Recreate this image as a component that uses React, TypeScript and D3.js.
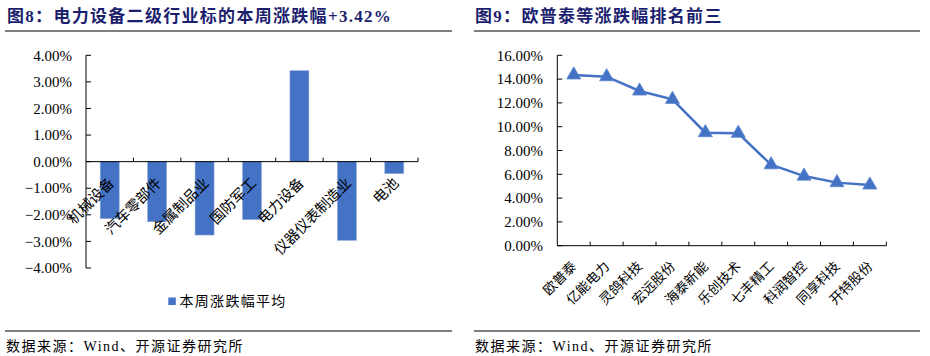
import React from "react";
import * as d3 from "d3";

const leftTitle = "图8：电力设备二级行业标的本周涨跌幅+3.42%";
const rightTitle = "图9：欧普泰等涨跌幅排名前三";
const source = "数据来源：Wind、开源证券研究所";

const barCategories = ["机械设备", "汽车零部件", "金属制品业", "国防军工", "电力设备", "仪器仪表制造业", "电池"];
const barValues = [-2.14, -2.26, -2.76, -2.18, 3.42, -2.96, -0.45];
const barTicks = [-4, -3, -2, -1, 0, 1, 2, 3, 4];
const barLegend = "本周涨跌幅平均";

const lineCategories = ["欧普泰", "亿能电力", "灵鸽科技", "宏远股份", "海泰新能", "乐创技术", "七丰精工", "科润智控", "同享科技", "开特股份"];
const lineValues = [14.35, 14.2, 13.0, 12.3, 9.5, 9.45, 6.8, 5.85, 5.3, 5.1];
const lineTicks = [0, 2, 4, 6, 8, 10, 12, 14, 16];

const BLUE = "#4472C4";
const TITLE = "#1c1f6e";
const NUM_FONT = "'Liberation Serif', 'Times New Roman', serif";
const CJK_FONT = "'Liberation Serif', 'Noto Sans CJK SC', serif";
const TITLE_FONT = "'Liberation Serif', 'Noto Sans CJK SC', sans-serif";

function BarChart() {
  const x = d3.scaleBand<string>().domain(barCategories).range([86, 418]).paddingInner(0.6).paddingOuter(0.3);
  const bandX = d3.scaleBand<string>().domain(barCategories).range([86, 418]);
  const y = d3.scaleLinear().domain([-4, 4]).range([268, 55.3]);
  const y0 = y(0);
  return (
    <g>
      <text x={7} y={22} fontFamily={TITLE_FONT} fontWeight="bold" fontSize={17} letterSpacing={1.3} fill={TITLE}>{leftTitle}</text>
      <line x1={5} x2={452} y1={31} y2={31} stroke="#000" strokeWidth={1.2} />
      {barTicks.map((t) => (
        <g key={t}>
          <text x={72} y={y(t)} dy="0.35em" textAnchor="end" fontFamily={NUM_FONT} fontSize={15} fill="#000">{d3.format(".2f")(t) + "%"}</text>
          <line x1={86} x2={91} y1={y(t)} y2={y(t)} stroke="#000" strokeWidth={1} />
        </g>
      ))}
      {barCategories.map((c, i) => {
        const v = barValues[i];
        return (
          <rect key={c} x={x(c)} width={x.bandwidth()} y={Math.min(y(v), y0)} height={Math.abs(y(v) - y0)} fill={BLUE} stroke="#8faadc" strokeWidth={0.6} />
        );
      })}
      <line x1={86} x2={86} y1={y(4)} y2={y(-4)} stroke="#000" strokeWidth={1} />
      <line x1={86} x2={418} y1={y0} y2={y0} stroke="#000" strokeWidth={1} />
      {barCategories.map((c) => (
        <line key={"t" + c} x1={(bandX(c) as number) + bandX.bandwidth()} x2={(bandX(c) as number) + bandX.bandwidth()} y1={y0} y2={y0 - 4} stroke="#000" strokeWidth={1} />
      ))}
      {barCategories.map((c) => {
        const cx = (bandX(c) as number) + bandX.bandwidth() / 2;
        return (
          <text key={"l" + c} transform={`translate(${cx - 4},${y0 + 13}) rotate(-45)`} textAnchor="end" dy="0.9em" fontFamily={CJK_FONT} fontSize={14.5} fill="#000">{c}</text>
        );
      })}
      <rect x={168.3} y={297.5} width={7.5} height={7.5} fill={BLUE} />
      <text x={179.5} y={301.5} dy="0.35em" fontFamily={CJK_FONT} fontSize={14} letterSpacing={1.3} fill="#000">{barLegend}</text>
      <line x1={5} x2={452} y1={331} y2={331} stroke="#000" strokeWidth={1.2} />
      <text x={6} y={346} dy="0.35em" fontFamily={CJK_FONT} fontSize={14} letterSpacing={1.5} fill="#000">{source}</text>
    </g>
  );
}

function LineChart() {
  const x = d3.scalePoint<string>().domain(lineCategories).range([557.3, 886.3]).padding(0.5);
  const bandX = d3.scaleBand<string>().domain(lineCategories).range([557.3, 886.3]);
  const y = d3.scaleLinear().domain([0, 16]).range([245.7, 55.3]);
  const line = d3.line<number>().x((_, i) => x(lineCategories[i]) as number).y((d) => y(d));
  const tri = d3.symbol().type(d3.symbolTriangle).size(85)();
  return (
    <g>
      <text x={475} y={22} fontFamily={TITLE_FONT} fontWeight="bold" fontSize={17} letterSpacing={1.3} fill={TITLE}>{rightTitle}</text>
      <line x1={474} x2={920} y1={31} y2={31} stroke="#000" strokeWidth={1.2} />
      {lineTicks.map((t) => (
        <g key={t}>
          <text x={543} y={y(t)} dy="0.35em" textAnchor="end" fontFamily={NUM_FONT} fontSize={15} fill="#000">{d3.format(".2f")(t) + "%"}</text>
          <line x1={557.3} x2={562.3} y1={y(t)} y2={y(t)} stroke="#000" strokeWidth={1} />
        </g>
      ))}
      <line x1={557.3} x2={557.3} y1={y(16)} y2={y(0)} stroke="#000" strokeWidth={1} />
      <line x1={557.3} x2={886.3} y1={y(0)} y2={y(0)} stroke="#000" strokeWidth={1} />
      {lineCategories.map((c) => (
        <line key={"t" + c} x1={(bandX(c) as number) + bandX.bandwidth()} x2={(bandX(c) as number) + bandX.bandwidth()} y1={y(0)} y2={y(0) - 4} stroke="#000" strokeWidth={1} />
      ))}
      <path d={line(lineValues) || ""} fill="none" stroke={BLUE} strokeWidth={2.5} />
      {lineValues.map((v, i) => (
        <path key={i} d={tri || ""} transform={`translate(${x(lineCategories[i])},${y(v)})`} fill={BLUE} stroke="#5b85cf" strokeWidth={0.8} />
      ))}
      {lineCategories.map((c) => (
        <text key={"l" + c} transform={`translate(${(x(c) as number) - 5},${y(0) + 13}) rotate(-45)`} textAnchor="end" dy="0.9em" fontFamily={CJK_FONT} fontSize={13.5} fill="#000">{c}</text>
      ))}
      <line x1={474} x2={920} y1={331} y2={331} stroke="#000" strokeWidth={1.2} />
      <text x={475} y={346} dy="0.35em" fontFamily={CJK_FONT} fontSize={14} letterSpacing={1.5} fill="#000">{source}</text>
    </g>
  );
}

export default function App() {
  return (
    <svg width={930} height={356} style={{ position: "absolute", left: 0, top: 0, background: "#fff" }}>
      <rect width={930} height={356} fill="#fff" />
      <BarChart />
      <LineChart />
    </svg>
  );
}
